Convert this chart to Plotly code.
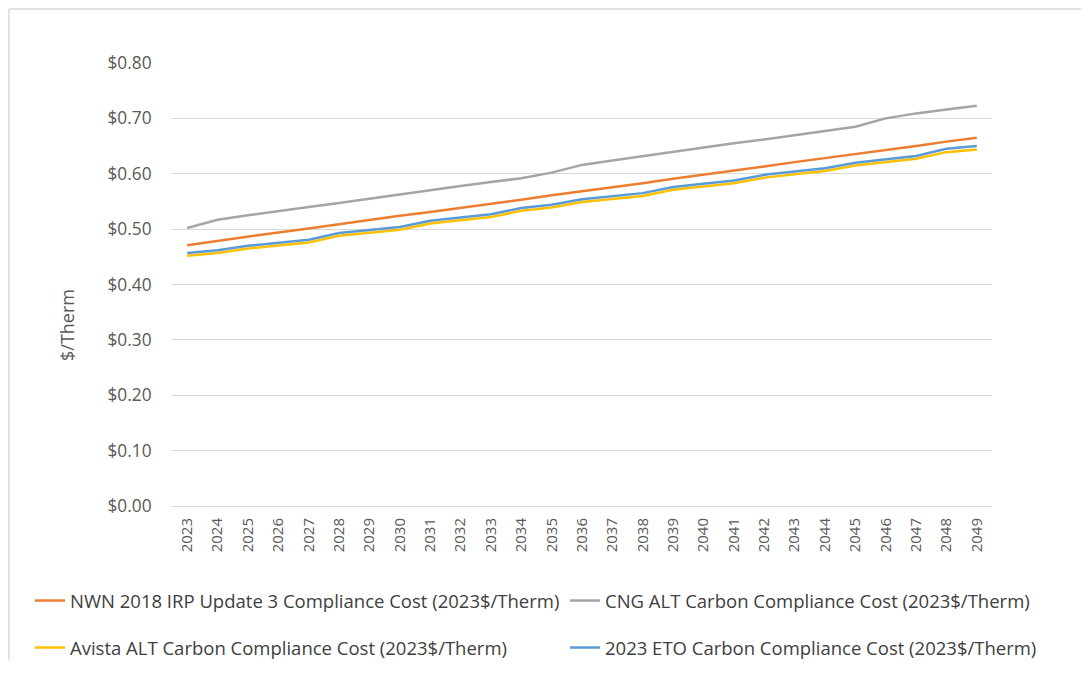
import plotly.graph_objects as go

years = [str(y) for y in range(2023, 2050)]

nwn = [0.471, 0.479, 0.486, 0.494, 0.501, 0.509, 0.516, 0.524, 0.531, 0.538, 0.546, 0.553,
       0.561, 0.568, 0.576, 0.583, 0.591, 0.598, 0.606, 0.613, 0.621, 0.628, 0.635, 0.643,
       0.650, 0.658, 0.665]
cng = [0.502, 0.517, 0.525, 0.533, 0.540, 0.547, 0.555, 0.562, 0.570, 0.578, 0.585, 0.592,
       0.602, 0.616, 0.624, 0.632, 0.640, 0.648, 0.655, 0.662, 0.670, 0.677, 0.685, 0.700,
       0.709, 0.716, 0.723]
avista = [0.452, 0.457, 0.465, 0.471, 0.476, 0.488, 0.493, 0.499, 0.510, 0.516, 0.522, 0.533,
          0.539, 0.549, 0.554, 0.560, 0.571, 0.577, 0.583, 0.593, 0.599, 0.605, 0.615, 0.621,
          0.627, 0.639, 0.644]
eto = [0.457, 0.462, 0.470, 0.476, 0.481, 0.493, 0.498, 0.504, 0.515, 0.521, 0.527, 0.538,
       0.544, 0.554, 0.559, 0.565, 0.576, 0.582, 0.588, 0.598, 0.604, 0.610, 0.620, 0.626,
       0.632, 0.645, 0.650]

names = [
    "NWN 2018 IRP Update 3 Compliance Cost (2023$/Therm)",
    "CNG ALT Carbon Compliance Cost (2023$/Therm)",
    "Avista ALT Carbon Compliance Cost (2023$/Therm)",
    "2023 ETO Carbon Compliance Cost (2023$/Therm)",
]
y_title = "$/Therm"
colors = ["#ED7D31", "#A5A5A5", "#FFC000", "#5B9BD5"]
series = [nwn, cng, avista, eto]
legends = ["legend", "legend2", "legend3", "legend4"]

fig = go.Figure()
for nm, col, vals, lg in zip(names, colors, series, legends):
    fig.add_trace(go.Scatter(x=years, y=vals, mode="lines", name=nm,
                             line=dict(color=col, width=2.5), legend=lg))

OFF = 8  # page body margin
W, H = 1089 - OFF, 679 - OFF
# plot area in screen pixels
SL, SR, ST, SB = 172, 992, 63, 506
L, R, T, B = SL - OFF, SR - OFF, ST - OFF, SB - OFF
pw, ph = R - L, B - T

def px2x(p):  # screen px -> paper
    return (p - OFF - L) / pw

def px2y(p):
    return (B - (p - OFF)) / ph

FONT = "Open Sans, sans-serif"
leg_font = dict(family=FONT, size=18.5, color="#404040")

def leg(xp, yp):
    return dict(orientation="h", x=px2x(xp), y=px2y(yp), xanchor="left", yanchor="middle",
                font=leg_font, bgcolor="rgba(0,0,0,0)", itemwidth=30)

fig.update_layout(
    width=W, height=H,
    margin=dict(l=L, r=W - R, t=T, b=H - B, autoexpand=False),
    paper_bgcolor="white", plot_bgcolor="white",
    font=dict(family=FONT, color="#595959"),
    showlegend=True,
    legend=leg(30, 601),
    legend2=leg(565, 601),
    legend3=leg(30, 648),
    legend4=leg(565, 648),
    xaxis=dict(type="category", range=[-0.5, 26.5], tickangle=-90,
               showgrid=False, showline=False, zeroline=False,
               ticks="outside", ticklen=5, tickcolor="rgba(0,0,0,0)",
               tickfont=dict(size=15, color="#595959", family=FONT)),
    yaxis=dict(range=[0, 0.8], dtick=0.1, tickformat="$.2f",
               showgrid=True, gridcolor="#D9D9D9", gridwidth=1,
               zeroline=True, zerolinecolor="#D9D9D9", zerolinewidth=1,
               showline=False,
               ticks="outside", ticklen=16, tickcolor="rgba(0,0,0,0)",
               tickfont=dict(size=17.3, color="#595959", family=FONT)),
    annotations=[dict(text=y_title, textangle=-90, xref="paper", yref="paper",
                      x=px2x(67), y=px2y(325), xanchor="center", yanchor="middle",
                      showarrow=False, font=dict(size=18, color="#595959", family=FONT))],
    shapes=[
        dict(type="line", xref="paper", yref="paper",
             x0=px2x(OFF + 1), x1=px2x(1100), y0=px2y(OFF + 1), y1=px2y(OFF + 1),
             line=dict(color="#D9D9D9", width=1.5)),
        dict(type="line", xref="paper", yref="paper",
             x0=px2x(OFF + 1), x1=px2x(OFF + 1), y0=px2y(OFF + 1), y1=px2y(660),
             line=dict(color="#D9D9D9", width=1.5)),
    ],
)

fig.write_html("out.html")
